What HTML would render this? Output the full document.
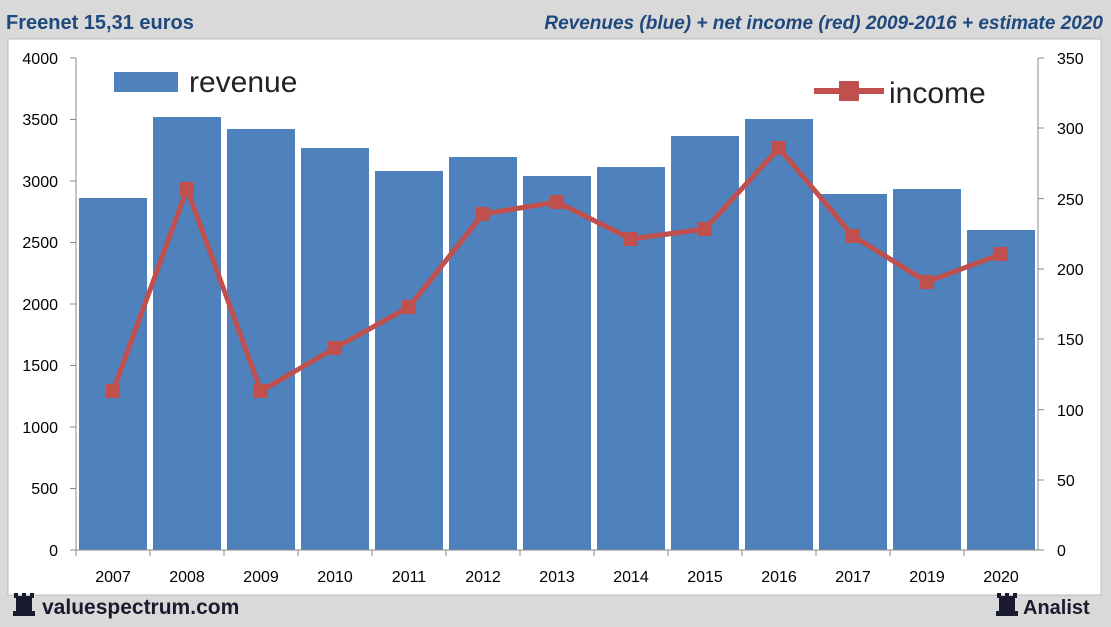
<!DOCTYPE html>
<html><head><meta charset="utf-8"><style>
html,body{margin:0;padding:0;background:#d9d9d9;}
svg{display:block;font-family:"Liberation Sans",Calibri,sans-serif;}
</style></head><body>
<svg width="1111" height="627" viewBox="0 0 1111 627" xmlns="http://www.w3.org/2000/svg">
<rect x="0" y="0" width="1111" height="627" fill="#d9d9d9"/>
<rect x="8" y="39" width="1093" height="556" fill="#fff" stroke="#bbb"/>
<text x="6" y="29" font-size="20" font-weight="bold" fill="#1f497d">Freenet 15,31 euros</text>
<text x="1103" y="29" font-size="19" font-weight="bold" font-style="italic" fill="#1f497d" text-anchor="end">Revenues (blue) + net income (red) 2009-2016 + estimate 2020</text>
<g fill="#4f81bd">
<rect x="79" y="198" width="68" height="352"/>
<rect x="153" y="117" width="68" height="433"/>
<rect x="227" y="129" width="68" height="421"/>
<rect x="301" y="148" width="68" height="402"/>
<rect x="375" y="171" width="68" height="379"/>
<rect x="449" y="157" width="68" height="393"/>
<rect x="523" y="176" width="68" height="374"/>
<rect x="597" y="167" width="68" height="383"/>
<rect x="671" y="136" width="68" height="414"/>
<rect x="745" y="119" width="68" height="431"/>
<rect x="819" y="194" width="68" height="356"/>
<rect x="893" y="189" width="68" height="361"/>
<rect x="967" y="230" width="68" height="320"/>
</g>
<g stroke="#888" stroke-width="1">
<line x1="76" y1="58" x2="76" y2="550"/>
<line x1="1038" y1="58" x2="1038" y2="550"/>
<line x1="70" y1="550" x2="1044" y2="550"/>
<line x1="70" y1="58" x2="76" y2="58"/><line x1="70" y1="119.5" x2="76" y2="119.5"/><line x1="70" y1="181" x2="76" y2="181"/><line x1="70" y1="242.5" x2="76" y2="242.5"/><line x1="70" y1="304" x2="76" y2="304"/><line x1="70" y1="365.5" x2="76" y2="365.5"/><line x1="70" y1="427" x2="76" y2="427"/><line x1="70" y1="488.5" x2="76" y2="488.5"/>
<line x1="1038" y1="58" x2="1044" y2="58"/><line x1="1038" y1="128" x2="1044" y2="128"/><line x1="1038" y1="198.6" x2="1044" y2="198.6"/><line x1="1038" y1="269" x2="1044" y2="269"/><line x1="1038" y1="339" x2="1044" y2="339"/><line x1="1038" y1="409.7" x2="1044" y2="409.7"/><line x1="1038" y1="480" x2="1044" y2="480"/>
<line x1="150" y1="550" x2="150" y2="556"/><line x1="224" y1="550" x2="224" y2="556"/><line x1="298" y1="550" x2="298" y2="556"/><line x1="372" y1="550" x2="372" y2="556"/><line x1="446" y1="550" x2="446" y2="556"/><line x1="520" y1="550" x2="520" y2="556"/><line x1="594" y1="550" x2="594" y2="556"/><line x1="668" y1="550" x2="668" y2="556"/><line x1="742" y1="550" x2="742" y2="556"/><line x1="816" y1="550" x2="816" y2="556"/><line x1="890" y1="550" x2="890" y2="556"/><line x1="964" y1="550" x2="964" y2="556"/><line x1="76" y1="550" x2="76" y2="556"/>
</g>
<g font-size="16" fill="#000" text-anchor="end">
<text x="58" y="64">4000</text><text x="58" y="125">3500</text><text x="58" y="187">3000</text><text x="58" y="248">2500</text><text x="58" y="310">2000</text><text x="58" y="371">1500</text><text x="58" y="433">1000</text><text x="58" y="494">500</text><text x="58" y="556">0</text>
</g>
<g font-size="16" fill="#000" text-anchor="start">
<text x="1057" y="64">350</text><text x="1057" y="134">300</text><text x="1057" y="205">250</text><text x="1057" y="275">200</text><text x="1057" y="345">150</text><text x="1057" y="416">100</text><text x="1057" y="486">50</text><text x="1057" y="556">0</text>
</g>
<g font-size="16" fill="#000" text-anchor="middle">
<text x="113" y="582">2007</text><text x="187" y="582">2008</text><text x="261" y="582">2009</text><text x="335" y="582">2010</text><text x="409" y="582">2011</text><text x="483" y="582">2012</text><text x="557" y="582">2013</text><text x="631" y="582">2014</text><text x="705" y="582">2015</text><text x="779" y="582">2016</text><text x="853" y="582">2017</text><text x="927" y="582">2019</text><text x="1001" y="582">2020</text>
</g>
<polyline fill="none" stroke="#c0504d" stroke-width="5" points="113,391 187,189 261,391 335,348 409,307 483,214 557,202 631,239 705,229 779,148 853,236 927,282 1001,254"/>
<g fill="#c0504d">
<rect x="106" y="384" width="14" height="14"/><rect x="180" y="182" width="14" height="14"/><rect x="254" y="384" width="14" height="14"/><rect x="328" y="341" width="14" height="14"/><rect x="402" y="300" width="14" height="14"/><rect x="476" y="207" width="14" height="14"/><rect x="550" y="195" width="14" height="14"/><rect x="624" y="232" width="14" height="14"/><rect x="698" y="222" width="14" height="14"/><rect x="772" y="141" width="14" height="14"/><rect x="846" y="229" width="14" height="14"/><rect x="920" y="275" width="14" height="14"/><rect x="994" y="247" width="14" height="14"/>
</g>
<rect x="114" y="72" width="64" height="20" fill="#4f81bd"/>
<text x="189" y="92" font-size="30" fill="#222">revenue</text>
<line x1="814" y1="91" x2="884" y2="91" stroke="#c0504d" stroke-width="6"/>
<rect x="839" y="81" width="20" height="20" fill="#c0504d"/>
<text x="889" y="103" font-size="30" fill="#222">income</text>
<g fill="#1a1a2e">
<rect x="16" y="596" width="16" height="18"/><rect x="13" y="611" width="22" height="5"/>
<rect x="14" y="593" width="4" height="5"/><rect x="22" y="593" width="4" height="5"/><rect x="30" y="593" width="4" height="5"/>
<rect x="999" y="596" width="16" height="18"/><rect x="996" y="611" width="22" height="5"/>
<rect x="997" y="593" width="4" height="5"/><rect x="1005" y="593" width="4" height="5"/><rect x="1013" y="593" width="4" height="5"/>
</g>
<text x="42" y="614" font-size="21" font-weight="bold" fill="#1a1a2e">valuespectrum.com</text>
<text x="1023" y="614" font-size="20" font-weight="bold" fill="#1a1a2e">Analist</text>
</svg>
</body></html>
